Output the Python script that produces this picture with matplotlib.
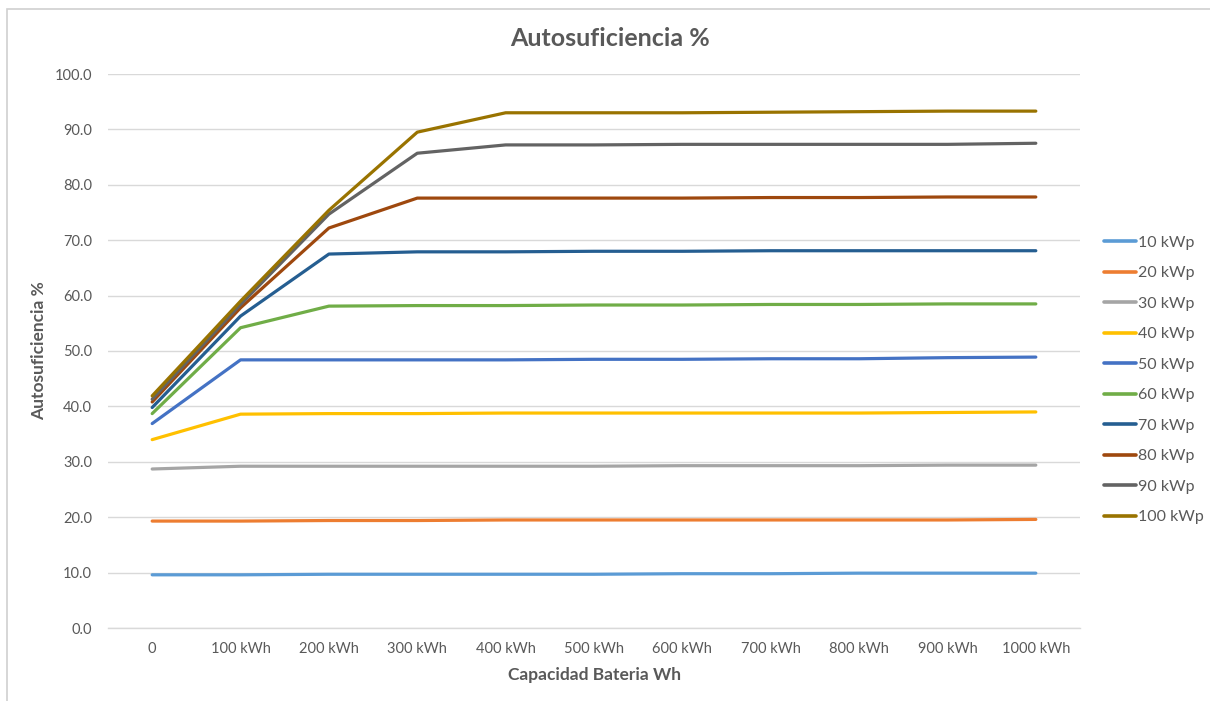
import matplotlib
matplotlib.use("Agg")
import matplotlib.pyplot as plt
from matplotlib.patches import Rectangle

plt.rcParams['font.family'] = ['Lato', 'DejaVu Sans']

categories = ["0", "100 kWh", "200 kWh", "300 kWh", "400 kWh", "500 kWh",
              "600 kWh", "700 kWh", "800 kWh", "900 kWh", "1000 kWh"]

kwp_10 = [9.6, 9.6, 9.7, 9.7, 9.7, 9.7, 9.8, 9.8, 9.9, 9.9, 9.9]
kwp_20 = [19.3, 19.3, 19.4, 19.4, 19.5, 19.5, 19.5, 19.5, 19.5, 19.5, 19.6]
kwp_30 = [28.7, 29.2, 29.2, 29.2, 29.2, 29.2, 29.3, 29.3, 29.3, 29.4, 29.4]
kwp_40 = [34.0, 38.6, 38.7, 38.7, 38.8, 38.8, 38.8, 38.8, 38.8, 38.9, 39.0]
kwp_50 = [36.9, 48.4, 48.4, 48.4, 48.4, 48.5, 48.5, 48.6, 48.6, 48.8, 48.9]
kwp_60 = [38.7, 54.2, 58.1, 58.2, 58.2, 58.3, 58.3, 58.4, 58.4, 58.5, 58.5]
kwp_70 = [39.8, 56.3, 67.5, 67.9, 67.9, 68.0, 68.0, 68.1, 68.1, 68.1, 68.1]
kwp_80 = [40.8, 57.8, 72.2, 77.6, 77.6, 77.6, 77.6, 77.7, 77.7, 77.8, 77.8]
kwp_90 = [41.3, 58.4, 74.7, 85.7, 87.2, 87.2, 87.3, 87.3, 87.3, 87.3, 87.5]
kwp_100 = [41.9, 59.0, 75.4, 89.5, 93.0, 93.0, 93.0, 93.1, 93.2, 93.3, 93.3]

series_labels = ["10 kWp", "20 kWp", "30 kWp", "40 kWp", "50 kWp",
                 "60 kWp", "70 kWp", "80 kWp", "90 kWp", "100 kWp"]
series_values = [kwp_10, kwp_20, kwp_30, kwp_40, kwp_50,
                 kwp_60, kwp_70, kwp_80, kwp_90, kwp_100]
series_colors = ["#5B9BD5", "#ED7D31", "#A5A5A5", "#FFC000", "#4472C4",
                 "#70AD47", "#255E91", "#9E480E", "#636363", "#997300"]

y_ticks = [0, 10, 20, 30, 40, 50, 60, 70, 80, 90, 100]

text_color = "#595959"
grid_color = "#D9D9D9"

fig = plt.figure(figsize=(12.10, 7.01), dpi=100)
fig.patch.set_facecolor("white")

# thin chart-area border
fig.patches.append(Rectangle((7 / 1210, -0.02), 1.05, 1 - 9 / 701 + 0.02,
                             transform=fig.transFigure, fill=False,
                             edgecolor="#D0D0D0", linewidth=1.2, zorder=0))

ax = fig.add_axes([108 / 1210, 1 - 628 / 701, (1080 - 108) / 1210, (628 - 74) / 701])

x = list(range(len(categories)))
for label, values, color in zip(series_labels, series_values, series_colors):
    ax.plot(x, values, color=color, linewidth=2.3, label=label,
            solid_capstyle="round", solid_joinstyle="round", zorder=3)

ax.set_xlim(-0.5, len(categories) - 0.5)
ax.set_ylim(0, 100)
ax.set_yticks(y_ticks)
ax.set_yticklabels([f"{v:.1f}" for v in y_ticks])
ax.set_xticks(x)
ax.set_xticklabels(categories)

ax.yaxis.grid(True, color=grid_color, linewidth=1.0, zorder=0)
ax.xaxis.grid(False)
for side in ["top", "right", "left"]:
    ax.spines[side].set_visible(False)
ax.spines["bottom"].set_color(grid_color)
ax.spines["bottom"].set_linewidth(1.0)

ax.tick_params(axis="both", length=0, colors=text_color, labelsize=10.5)
ax.tick_params(axis="y", pad=11.5)
ax.tick_params(axis="x", pad=10)

fig.text(610 / 1210, 1 - 38 / 701, "Autosuficiencia %", fontsize=18,
         fontweight="bold", color=text_color, ha="center", va="center")
ax.set_xlabel("Capacidad Bateria Wh", fontsize=12.5, fontweight="bold",
              color=text_color, labelpad=8)
ax.set_ylabel("Autosuficiencia %", fontsize=12.5, fontweight="bold",
              color=text_color, labelpad=5)

leg = ax.legend(loc="center left", bbox_to_anchor=(1.01, (628 - 380) / 554),
                frameon=False, fontsize=11.5, handlelength=2.0,
                handletextpad=0.1, labelspacing=1.02, labelcolor=text_color)
for line in leg.get_lines():
    line.set_linewidth(2.6)

fig.savefig("out.png", dpi=100, facecolor="white")
